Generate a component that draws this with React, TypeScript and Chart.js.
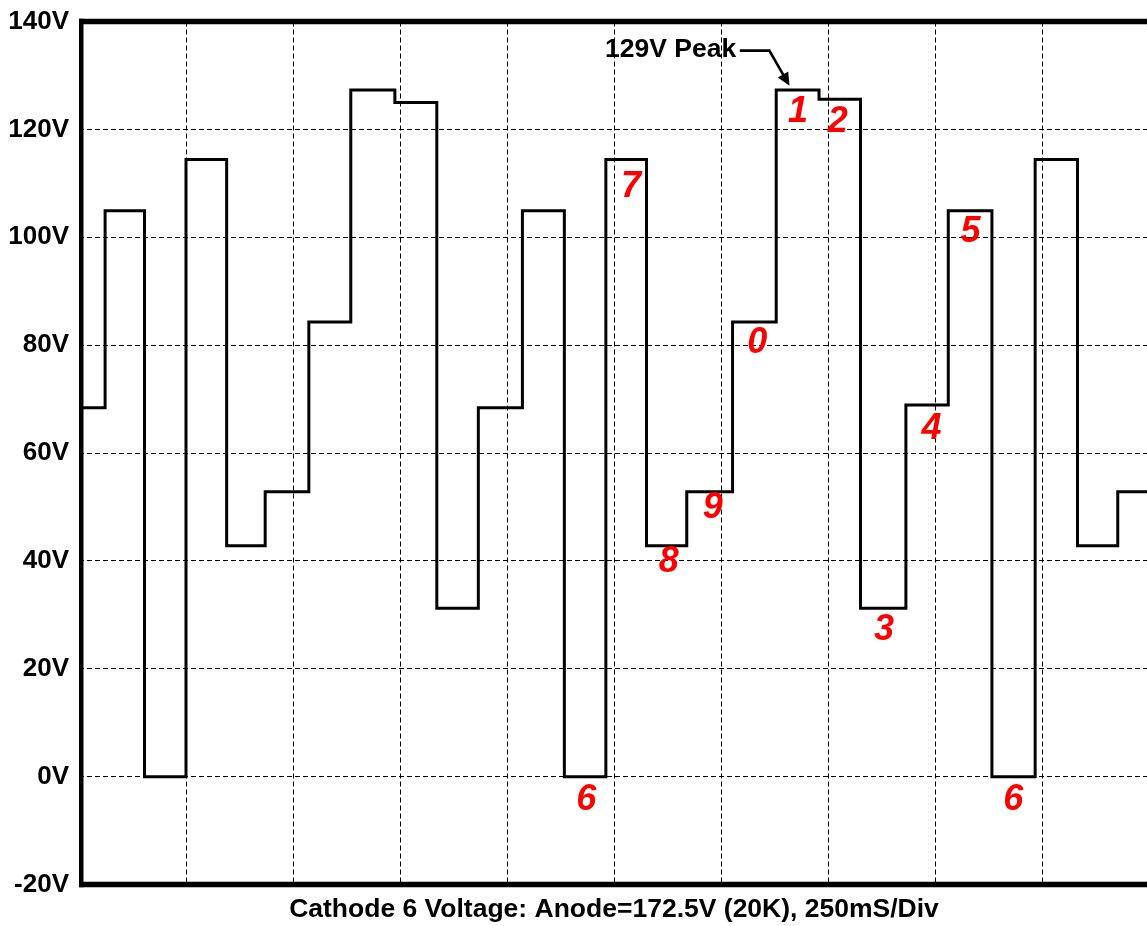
import React, { useEffect, useRef } from "react";
import { Chart, registerables } from "chart.js";

Chart.register(...registerables);

// ---- data (time in ms, voltage in V) ----
const stepStartMs = [0, 61, 153, 250, 345, 435, 537, 635, 738, 836, 933, 1036, 1134, 1231, 1326, 1420, 1527, 1629, 1729, 1826, 1932, 2031, 2133, 2234, 2333, 2427];
const stepVolts = [68.4, 104.9, 0, 114.4, 42.8, 52.8, 84.3, 127.3, 125.0, 31.2, 68.4, 104.9, 0, 114.4, 42.8, 52.8, 84.3, 127.3, 125.6, 31.2, 68.9, 104.9, 0, 114.4, 42.8, 52.8];
const xMaxMs = 2500;
const xStepMs = 250;
const yMin = -20;
const yMax = 140;
const yStep = 20;
const xTitle = "Cathode 6 Voltage: Anode=172.5V (20K), 250mS/Div";

// digit annotations: label, time (ms), voltage
const digitLabels = ["1", "2", "7", "0", "9", "8", "3", "4", "5", "6", "6"];
const digitMs = [1680, 1773, 1290, 1585, 1481, 1378, 1881, 1992, 2083, 2183, 1185];
const digitVolts = [123.2, 121.4, 109.3, 80.3, 49.8, 39.7, 27.2, 64.4, 101.0, -4.3, -4.3];

const peakText = "129V Peak";
const peakTextMs = 1229;
const peakTextV = 134.8;
const peakArrowMs = [1544, 1613, 1660];
const peakArrowV = [134.6, 134.6, 128.1];

const FONT = "'Liberation Sans', Arial, Helvetica, sans-serif";

const framePlugin = {
  id: "frame",
  afterDatasetsDraw(chart: any) {
    const { ctx, chartArea: a } = chart;
    ctx.save();
    ctx.fillStyle = "#000";
    ctx.fillRect(a.left, a.top - 2.75, a.right - a.left + 10, 5.5);
    ctx.fillRect(a.left, a.bottom - 2.75, a.right - a.left + 10, 5.5);
    ctx.fillRect(a.left, a.top - 2.75, 4.5, a.bottom - a.top + 5.5);
    ctx.restore();
  },
  afterDraw(chart: any) {
    const { ctx } = chart;
    const xs = chart.scales.x;
    const ys = chart.scales.y;
    ctx.save();
    // red digit labels
    ctx.fillStyle = "#ff0000";
    ctx.font = `italic bold 36px ${FONT}`;
    ctx.textAlign = "center";
    ctx.textBaseline = "middle";
    digitLabels.forEach((t, i) => {
      ctx.fillText(t, xs.getPixelForValue(digitMs[i]), ys.getPixelForValue(digitVolts[i]));
    });
    // peak annotation
    ctx.fillStyle = "#000";
    ctx.font = `bold 26.5px ${FONT}`;
    ctx.textAlign = "left";
    ctx.fillText(peakText, xs.getPixelForValue(peakTextMs), ys.getPixelForValue(peakTextV));
    const px = peakArrowMs.map((v) => xs.getPixelForValue(v));
    const py = peakArrowV.map((v) => ys.getPixelForValue(v));
    const dx = px[2] - px[1];
    const dy = py[2] - py[1];
    const len = Math.hypot(dx, dy);
    const ux = dx / len;
    const uy = dy / len;
    const headLen = 13;
    const headW = 6;
    const bx = px[2] - ux * headLen;
    const by = py[2] - uy * headLen;
    ctx.strokeStyle = "#000";
    ctx.lineWidth = 2.6;
    ctx.lineJoin = "miter";
    ctx.beginPath();
    ctx.moveTo(px[0], py[0]);
    ctx.lineTo(px[1], py[1]);
    ctx.lineTo(bx + ux * 2, by + uy * 2);
    ctx.stroke();
    ctx.beginPath();
    ctx.moveTo(px[2], py[2]);
    ctx.lineTo(bx - uy * headW, by + ux * headW);
    ctx.lineTo(bx + uy * headW, by - ux * headW);
    ctx.closePath();
    ctx.fill();
    ctx.restore();
  },
};

export default function App() {
  const canvasRef = useRef<HTMLCanvasElement | null>(null);

  useEffect(() => {
    if (!canvasRef.current) return;
    const points = stepStartMs.map((t, i) => ({ x: t, y: stepVolts[i] }));
    points.push({ x: xMaxMs, y: stepVolts[stepVolts.length - 1] });

    const chart = new Chart(canvasRef.current, {
      type: "line",
      data: {
        datasets: [
          {
            data: points,
            stepped: true,
            borderColor: "#000",
            borderWidth: 3,
            pointRadius: 0,
            fill: false,
          },
        ],
      },
      options: {
        responsive: false,
        animation: false,
        devicePixelRatio: 1,
        layout: { padding: { top: 21.5, right: 1, bottom: 0, left: 0 } },
        plugins: {
          legend: { display: false },
          tooltip: { enabled: false },
          title: { display: false },
        },
        scales: {
          x: {
            type: "linear",
            min: 0,
            max: xMaxMs,
            ticks: { display: false, stepSize: xStepMs },
            grid: { color: "#000", lineWidth: 1, drawTicks: false },
            border: { display: false, dash: [5, 3] },
            title: {
              display: true,
              text: xTitle,
              color: "#000",
              font: { family: FONT, size: 26.5, weight: "bold", lineHeight: 1.2 },
              padding: { top: 0, bottom: 0 },
            },
            afterFit: (s: any) => {
              s.height = 926 - 884.5;
              s.paddingLeft = 0;
              s.paddingRight = 0;
            },
          },
          y: {
            type: "linear",
            min: yMin,
            max: yMax,
            ticks: {
              stepSize: yStep,
              color: "#000",
              padding: 10,
              font: { family: FONT, size: 26, weight: "bold" },
              callback: (v: any) => `${v}V`,
            },
            grid: { color: "#000", lineWidth: 1, drawTicks: false },
            border: { display: false, dash: [5, 3] },
            afterFit: (s: any) => {
              s.width = 79;
              s.paddingTop = 0;
              s.paddingBottom = 0;
            },
          },
        },
      },
      plugins: [framePlugin],
    });
    return () => chart.destroy();
  }, []);

  return (
    <div
      style={{
        position: "fixed",
        left: 0,
        top: 0,
        width: 1147,
        height: 926,
        overflow: "hidden",
        background: "#fff",
      }}
    >
      <canvas ref={canvasRef} width={1150} height={926} style={{ display: "block" }} />
    </div>
  );
}
